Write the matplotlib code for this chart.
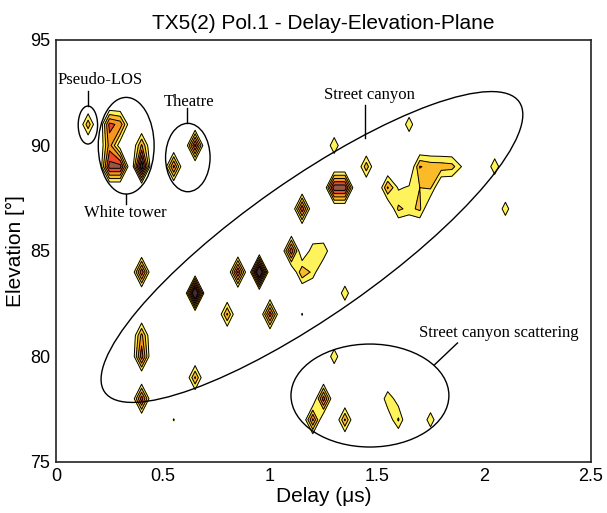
import numpy as np
import matplotlib
matplotlib.use('Agg')
import matplotlib.pyplot as plt
from matplotlib.patches import Ellipse
from matplotlib.transforms import Affine2D

plt.rcParams['font.family'] = ['Liberation Sans', 'DejaVu Sans']

# detected paths: delay (us), elevation (deg), relative level
peak_delay = [0.15, 0.25, 0.30, 0.35, 0.25, 0.30, 0.25, 0.30, 0.40, 0.40,
              0.55, 0.65,
              0.40, 0.65, 0.85, 0.95, 0.80, 1.00, 1.15, 0.40, 0.40, 0.65, 0.40, 0.55,
              1.15, 1.10, 1.15, 1.20, 1.20, 1.25, 1.35, 1.30, 1.45, 1.65,
              1.30, 1.35, 1.55, 1.60, 1.65, 1.70, 1.60, 1.65, 1.70, 1.75,
              1.70, 1.75, 1.80, 1.85, 1.90, 2.05, 2.10,
              1.30, 1.25, 1.20, 1.35, 1.55, 1.60, 1.60, 1.55, 1.75]
peak_elev = [91, 91, 91, 91, 90, 90, 89, 89, 90, 89,
             89, 90,
             84, 83, 84, 84, 82, 82, 82, 81, 80, 79, 78, 77,
             87, 85, 84, 84, 85, 85, 83, 90, 89, 91,
             88, 88, 88, 87, 87, 87, 88, 88, 88, 88,
             89, 89, 89, 89, 89, 89, 87,
             80, 78, 77, 77, 78, 77, 78, 77, 77]
peak_level = [2.0, 3.0, 2.6, 0.3, 2.5, 0.5, 3.7, 3.7, 2.3, 4.6,
              3.0, 3.6,
              3.3, 5.5, 3.5, 5.5, 2.3, 3.2, 1.05, 2.4, 3.2, 2.3, 3.2, 1.05,
              3.3, 3.3, 2.2, 1.4, 1.5, 1.6, 1.5, 1.6, 2.0, 1.5,
              3.9, 3.9, 2.3, 1.75, 1.4, 1.75, 0.9, 1.1, 1.6, 1.7,
              2.25, 2.0, 1.95, 1.85, 0.9, 1.58, 1.45,
              1.5, 3.2, 2.95, 2.3, 1.5, 1.7, 0.6, 0.4, 1.5]

levels = [1, 1.6, 2.2, 2.8, 3.4, 4.0, 10]
colors = ['#FFF35C', '#FBBA28', '#F7961E', '#EB4A26', '#9A5644', '#4A2A2A']

delay = np.round(np.arange(0, 2.5001, 0.05), 2)
elev = np.arange(75, 96)
Z = np.zeros((len(elev), len(delay)))
for d, e, v in zip(peak_delay, peak_elev, peak_level):
    Z[int(e - 75), int(round(d / 0.05))] = v

fig = plt.figure(figsize=(6.07, 5.13), dpi=100)
ax = fig.add_axes([56/607, 1-462/513, 535/607, 422/513])
ax.contourf(delay, elev, Z, levels=levels, colors=colors)
ax.contour(delay, elev, Z, levels=levels[:-1], colors='k', linewidths=0.7)

ax.set_xlim(0, 2.5)
ax.set_ylim(75, 95)
ax.set_xticks([0, 0.5, 1, 1.5, 2, 2.5])
ax.set_xticklabels(['0', '0.5', '1', '1.5', '2', '2.5'])
ax.set_yticks([75, 80, 85, 90, 95])
ax.tick_params(length=0, labelsize=13, pad=4)
for s in ax.spines.values():
    s.set_linewidth(1.2)
    s.set_color('#222222')
ax.set_xlabel('Delay (\u03bcs)', fontsize=15, labelpad=2)
ax.set_ylabel('Elevation [\u00b0]', fontsize=15, labelpad=4)
ax.set_title('TX5(2) Pol.1 - Delay-Elevation-Plane', fontsize=15, pad=8)

# cluster ellipses
ek = dict(fill=False, lw=1.0, ec='k')
ax.add_patch(Ellipse((0.149, 90.97), 0.0905, 1.8, **ek))
ax.add_patch(Ellipse((0.328, 89.99), 0.261, 4.58, **ek))
ax.add_patch(Ellipse((0.616, 89.43), 0.208, 3.24, **ek))
ax.add_patch(Ellipse((1.467, 78.15), 0.738, 4.88, **ek))
sx, sy = 535/2.5, 422/20
ax.add_patch(Ellipse((0, 0), 2*253, 2*68, angle=35, transform=Affine2D().scale(1/sx, 1/sy).translate(1.196, 85.19) + ax.transData, **ek))

# labels with leader lines
tk = dict(family='Liberation Serif', fontsize=12, ha='center', va='center')
lk = dict(color='k', lw=1.0)
ax.text(0.206, 93.1, 'Pseudo-LOS', **tk)
ax.plot([0.15, 0.15], [92.6, 91.87], **lk)
ax.text(0.322, 86.8, 'White tower', **tk)
ax.plot([0.327, 0.327], [87.7, 87.25], **lk)
ax.text(0.62, 92.06, 'Theatre', **tk)
ax.plot([0.612, 0.612], [91.8, 91.07], **lk)
ax.text(1.465, 92.4, 'Street canyon', **tk)
ax.plot([1.446, 1.446], [91.9, 90.36], **lk)
ax.text(2.07, 81.1, 'Street canyon scattering', **tk)
ax.plot([1.768, 1.876], [79.6, 80.64], **lk)

fig.savefig('out.png', dpi=100)
